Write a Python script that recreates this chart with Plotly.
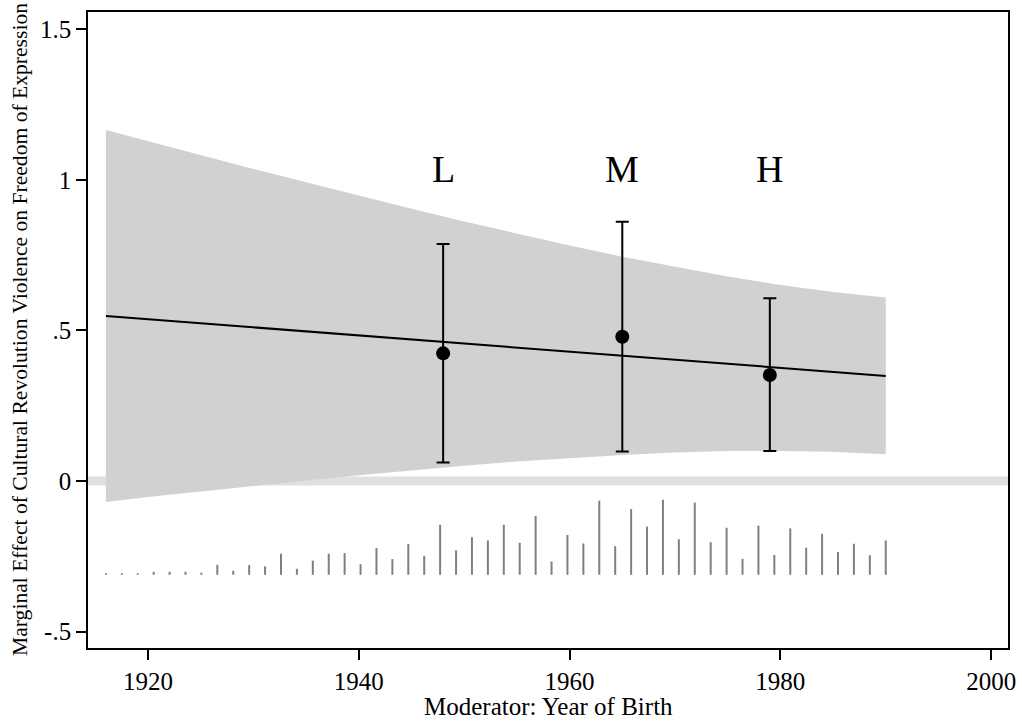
import numpy as np
import plotly.graph_objects as go

# ---- data ----
band_years = [1916, 1920, 1925, 1930, 1935, 1940, 1945, 1950, 1955, 1960,
              1965, 1970, 1975, 1980, 1985, 1990]
band_upper = [1.165, 1.128, 1.082, 1.036, 0.992, 0.947, 0.904, 0.862, 0.821,
              0.782, 0.745, 0.711, 0.679, 0.651, 0.628, 0.609]
band_lower = [-0.069, -0.053, -0.034, -0.016, 0.002, 0.019, 0.036, 0.051,
              0.065, 0.077, 0.087, 0.095, 0.100, 0.100, 0.097, 0.089]

line_years = [1916, 1990]
line_effect = [0.548, 0.349]

bin_labels = ["L", "M", "H"]
bin_years = [1948, 1965, 1979]
bin_effect = [0.424, 0.479, 0.352]
bin_upper = [0.787, 0.861, 0.607]
bin_lower = [0.062, 0.098, 0.100]

hist_start, hist_end = 1916, 1990
hist_heights = [0.005, 0.005, 0.005, 0.010, 0.010, 0.010, 0.007, 0.033, 0.013, 0.032,
                0.028, 0.070, 0.020, 0.047, 0.070, 0.072, 0.035, 0.089, 0.052, 0.102,
                0.063, 0.166, 0.081, 0.125, 0.114, 0.166, 0.106, 0.195, 0.044, 0.132,
                0.104, 0.246, 0.095, 0.218, 0.160, 0.249, 0.118, 0.240, 0.108, 0.156,
                0.053, 0.163, 0.066, 0.154, 0.090, 0.136, 0.076, 0.103, 0.065, 0.114]
hist_base = -0.311

x_ticks = [1920, 1940, 1960, 1980, 2000]
y_ticks = [-0.5, 0, 0.5, 1, 1.5]
y_ticktext = ["-.5", "0", ".5", "1", "1.5"]

FONT = "Liberation Serif, Times New Roman, serif"

fig = go.Figure()

# confidence band
fig.add_trace(go.Scatter(
    x=band_years + band_years[::-1],
    y=band_upper + band_lower[::-1],
    fill="toself", fillcolor="#d1d1d1", line=dict(width=0),
    mode="lines", hoverinfo="skip", showlegend=False))

# histogram spikes
hist_x = np.linspace(hist_start, hist_end, len(hist_heights))
hx, hy = [], []
for xv, h in zip(hist_x, hist_heights):
    hx += [xv, xv, None]
    hy += [hist_base, hist_base + h, None]
fig.add_trace(go.Scatter(x=hx, y=hy, mode="lines",
                         line=dict(color="#7f7f7f", width=2),
                         hoverinfo="skip", showlegend=False))

# marginal effect line
fig.add_trace(go.Scatter(x=line_years, y=line_effect, mode="lines",
                         line=dict(color="black", width=2), showlegend=False))

# binned estimates
fig.add_trace(go.Scatter(
    x=bin_years, y=bin_effect, mode="markers",
    marker=dict(color="black", size=14),
    error_y=dict(type="data", symmetric=False,
                 array=[u - e for u, e in zip(bin_upper, bin_effect)],
                 arrayminus=[e - l for e, l in zip(bin_effect, bin_lower)],
                 color="black", thickness=2, width=6.5),
    showlegend=False))

annotations = []
for lab, xv in zip(bin_labels, bin_years):
    annotations.append(dict(x=xv, y=1.035, xref="x", yref="y", text=lab,
                            showarrow=False, font=dict(family=FONT, size=38, color="black"),
                            xanchor="center", yanchor="middle"))
annotations.append(dict(x=0.5, y=0, xref="paper", yref="paper",
                        text="Moderator: Year of Birth", showarrow=False,
                        font=dict(family=FONT, size=25, color="black"),
                        xanchor="center", yanchor="middle", yshift=-58))
annotations.append(dict(x=0, y=0.5, xref="paper", yref="paper",
                        text="Marginal Effect of Cultural Revolution Violence on Freedom of Expression",
                        showarrow=False, textangle=-90,
                        font=dict(family=FONT, size=21.6, color="black"),
                        xanchor="center", yanchor="middle", xshift=-68))

fig.update_layout(
    width=1022, height=722,
    margin=dict(l=88, r=14, t=12, b=74),
    paper_bgcolor="white", plot_bgcolor="white",
    font=dict(family=FONT, color="black"),
    annotations=annotations,
    shapes=[dict(type="line", xref="paper", yref="y", x0=0, x1=1, y0=0, y1=0,
                 line=dict(color="#e0e0e0", width=9), layer="below")],
    xaxis=dict(range=[1914.3, 2001.6], tickvals=x_ticks, ticks="outside",
               ticklen=10, tickwidth=1.5, tickcolor="black",
               showline=True, linecolor="black", linewidth=1.7, mirror=True,
               showgrid=False, zeroline=False, automargin=False,
               tickfont=dict(family=FONT, size=25, color="black")),
    yaxis=dict(range=[-0.554, 1.557], tickvals=y_ticks, ticktext=y_ticktext,
               ticks="outside", ticklen=10, tickwidth=1.5, tickcolor="black",
               showline=True, linecolor="black", linewidth=1.7, mirror=True,
               showgrid=False, zeroline=False, automargin=False,
               tickfont=dict(family=FONT, size=25, color="black")),
)

fig.write_html("out.html", config={"displayModeBar": False},
               post_script="document.body.style.margin='0';")
